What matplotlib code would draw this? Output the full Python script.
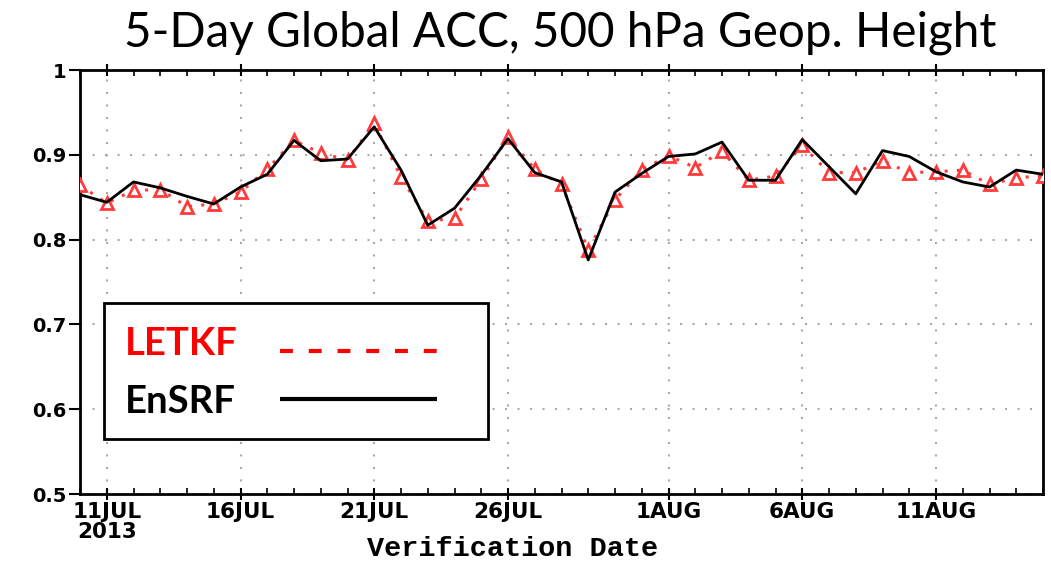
import matplotlib
matplotlib.use("Agg")
import matplotlib.pyplot as plt
import matplotlib.dates as mdates
from matplotlib.patches import Rectangle
import pandas as pd

dates = pd.date_range("2013-07-10", "2013-08-15", freq="D")
letkf = [0.864, 0.843, 0.858, 0.859, 0.839, 0.842, 0.856, 0.883, 0.917, 0.902,
         0.894, 0.937, 0.874, 0.822, 0.825, 0.871, 0.921, 0.883, 0.865, 0.788,
         0.847, 0.882, 0.899, 0.885, 0.904, 0.870, 0.875, 0.911, 0.879, 0.879,
         0.893, 0.879, 0.880, 0.882, 0.865, 0.873, 0.875]
ensrf = [0.853, 0.844, 0.868, 0.861, 0.851, 0.842, 0.862, 0.877, 0.917, 0.893,
         0.895, 0.933, 0.882, 0.817, 0.837, 0.876, 0.919, 0.879, 0.868, 0.776,
         0.856, 0.878, 0.898, 0.901, 0.915, 0.870, 0.870, 0.918, 0.886, 0.854,
         0.905, 0.898, 0.880, 0.868, 0.862, 0.882, 0.877]
xtick_dates = pd.to_datetime(["2013-07-11", "2013-07-16", "2013-07-21", "2013-07-26",
                              "2013-08-01", "2013-08-06", "2013-08-11"])
xtick_labels = ["11JUL\n2013", "16JUL", "21JUL", "26JUL", "1AUG", "6AUG", "11AUG"]
yticks = [0.5, 0.6, 0.7, 0.8, 0.9, 1.0]
ytick_labels = ["0.5", "0.6", "0.7", "0.8", "0.9", "1"]
series_names = ["LETKF", "EnSRF"]

fig = plt.figure(figsize=(10.51, 5.61), dpi=100)
ax = fig.add_axes([80/1051, (561-494)/561, (1043-80)/1051, (494-70)/561])

red = "#ff3b3b"
ax.plot(dates, letkf, color=red, ls=(0, (1, 3)), lw=2.2, marker="^", ms=9,
        mfc="white", mec=red, mew=2, zorder=3)
ax.plot(dates, ensrf, color="black", lw=2, zorder=4)

ax.set_xlim(dates[0], dates[-1])
ax.set_ylim(0.5, 1.0)
ax.set_yticks(yticks)
ax.set_yticklabels(ytick_labels, fontsize=14, fontweight="bold")
ax.set_xticks(xtick_dates)
ax.set_xticklabels(xtick_labels, fontsize=15.5, fontweight="bold", linespacing=0.95)
ax.xaxis.set_minor_locator(mdates.DayLocator())
ax.grid(True, which="major", color="#aaaaaa", ls=(0, (1, 5)), lw=1.5)
for s in ax.spines.values():
    s.set_linewidth(2)
ax.tick_params(axis="y", which="major", direction="out", length=8, width=1.5, pad=2)
ax.tick_params(axis="x", which="major", direction="inout", length=8, width=1.5,
               top=True, pad=2)
ax.tick_params(axis="x", which="minor", direction="in", length=4, width=1.2, top=True)
for lbl in ax.get_xticklabels():
    lbl.set_horizontalalignment("center")

ax.set_xlabel("Verification Date", fontsize=20.5, fontweight="bold",
              family="Liberation Mono")
ax.xaxis.set_label_coords((513-80)/963, -0.1)

fig.suptitle("5-Day Global ACC, 500 hPa Geop. Height", fontsize=34.3, family="Lato",
             y=0.982, x=(125+995)/2/1051)

# legend box (drawn manually to match layout)
T = ax.transAxes
ax.add_patch(Rectangle((0.0249, 0.1297), 0.4237-0.0249, 0.4505-0.1297,
                       transform=T, facecolor="white", edgecolor="black",
                       lw=2, zorder=10, clip_on=False))
ax.text(0.047, 0.354, series_names[0], transform=T, color="red", fontsize=27.5,
        fontweight="bold", family="Lato", va="center", ha="left", zorder=11)
ax.text(0.047, 0.217, series_names[1], transform=T, color="black", fontsize=27.5,
        fontweight="bold", family="Lato", va="center", ha="left", zorder=11)
ax.plot([0.2077, 0.3704], [0.337, 0.337], transform=T, color="red", lw=3,
        ls=(0, (3.1, 3.8)), zorder=11, solid_capstyle="butt", dash_capstyle="butt")
ax.plot([0.2077, 0.3704], [0.2233, 0.2233], transform=T, color="black", lw=3,
        zorder=11, solid_capstyle="butt")

fig.savefig("out.png", dpi=100)
